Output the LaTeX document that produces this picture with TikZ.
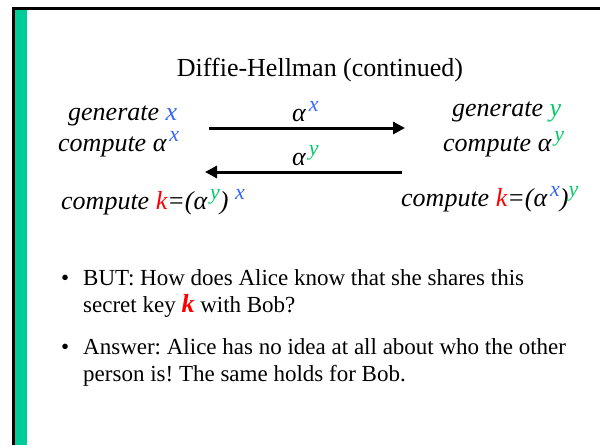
\documentclass[tikz,border=0pt]{standalone}
\usepackage{fontspec}
\setmainfont{Liberation Serif}
\definecolor{barGreen}{RGB}{0,204,153}
\definecolor{xblue}{RGB}{51,102,255}
\definecolor{ygreen}{RGB}{0,204,102}
\definecolor{kred}{RGB}{255,0,0}
\usetikzlibrary{arrows.meta}
\newcommand{\expo}[2]{\smash{\raisebox{10pt}{\fontsize{22}{22}\selectfont\textcolor{#1}{#2}}}}
\frenchspacing

\begin{document}
\begin{tikzpicture}[x=1pt,y=-1pt,
    party/.style={anchor=base west, inner sep=0pt, font=\fontsize{26}{30}\selectfont\itshape},
    msg/.style={line width=3pt, -{Triangle[length=12pt,width=12pt]}},
    item/.style={anchor=base west, inner sep=0pt, align=left, font=\fontsize{23}{27}\selectfont}]
  \useasboundingbox (0,0) rectangle (600,445);
  %% Slide frame
  \fill[barGreen] (15,10) rectangle (27,445);
  \fill[black] (12,7) rectangle (600,10);
  \fill[black] (12,7) rectangle (15,445);
  %% Title
  \node[anchor=base, inner sep=0pt, font=\fontsize{26}{30}\selectfont] (title) at (320,76) {Diffie-Hellman (continued)};
  %% Alice
  \node[party] (genx) at (68,120) {generate \textcolor{xblue}{x}};
  \node[party] (compx) at (58,151) {compute α\hspace{3pt}\expo{xblue}{x}};
  \node[party] (keyA) at (61,209) {compute \textcolor{kred}{k}=(α\hspace{3pt}\expo{ygreen}{y}) \expo{xblue}{x}};
  %% Bob
  \node[party] (geny) at (452,116) {generate \textcolor{ygreen}{y}};
  \node[party] (compy) at (443,151) {compute α\hspace{3pt}\expo{ygreen}{y}};
  \node[party] (keyB) at (401,206) {compute \textcolor{kred}{k}=(α\hspace{3pt}\expo{xblue}{x})\expo{ygreen}{y}};
  %% Messages
  \coordinate (sendA) at (209,128);
  \coordinate (recvB) at (405,128);
  \coordinate (sendB) at (402,172);
  \coordinate (recvA) at (205,172);
  \draw[msg] (sendA) -- (recvB);
  \draw[msg] (sendB) -- (recvA);
  \node[party] (msgx) at (292,121) {α\hspace{3pt}\expo{xblue}{x}};
  \node[party] (msgy) at (292,165) {α\hspace{3pt}\expo{ygreen}{y}};
  %% Bullets
  \node[item] (dotA) at (61,285) {•};
  \node[item] (butA) at (83,312) {BUT: How does Alice know that she shares this\\secret key \textcolor{kred}{\bfseries\itshape\fontsize{26}{27}\selectfont k} with Bob?};
  \node[item] (dotB) at (61,354) {•};
  \node[item] (ansB) at (83,381) {Answer: Alice has no idea at all about who the other\\person is! The same holds for Bob.};
\end{tikzpicture}
\end{document}
